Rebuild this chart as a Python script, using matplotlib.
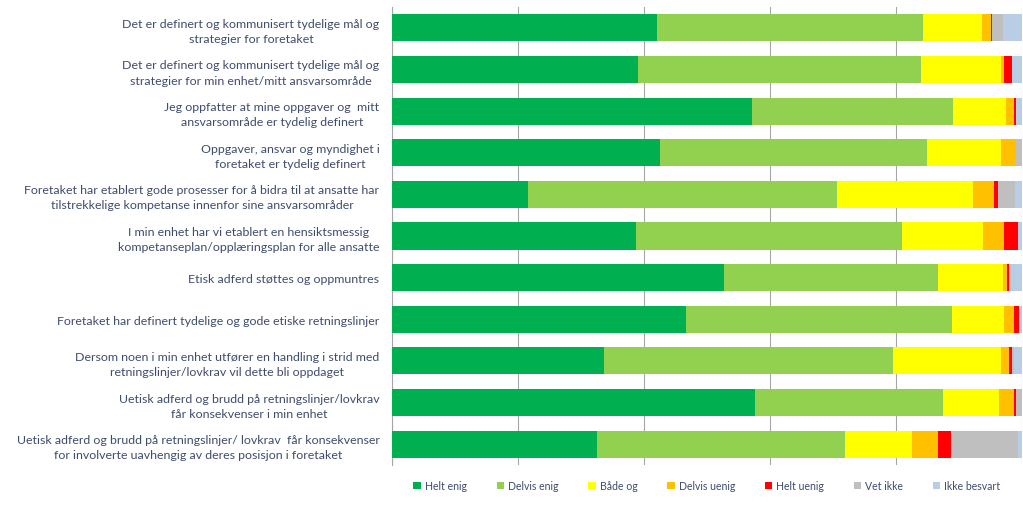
import matplotlib.pyplot as plt
import numpy as np

categories = [
    "Det er definert og kommunisert tydelige mål og\nstrategier for foretaket",
    "Det er definert og kommunisert tydelige mål og\nstrategier for min enhet/mitt ansvarsområde",
    "Jeg oppfatter at mine oppgaver og  mitt\nansvarsområde er tydelig definert",
    "Oppgaver, ansvar og myndighet i\nforetaket er tydelig definert",
    "Foretaket har etablert gode prosesser for å bidra til at ansatte har\ntilstrekkelige kompetanse innenfor sine ansvarsområder",
    "I min enhet har vi etablert en hensiktsmessig\nkompetanseplan/opplæringsplan for alle ansatte",
    "Etisk adferd støttes og oppmuntres",
    "Foretaket har definert tydelige og gode etiske retningslinjer",
    "Dersom noen i min enhet utfører en handling i strid med\nretningslinjer/lovkrav vil dette bli oppdaget",
    "Uetisk adferd og brudd på retningslinjer/lovkrav\nfår konsekvenser i min enhet",
    "Uetisk adferd og brudd på retningslinjer/ lovkrav  får konsekvenser\nfor involverte uavhengig av deres posisjon i foretaket",
]

series_names = ["Helt enig", "Delvis enig", "Både og", "Delvis uenig",
                "Helt uenig", "Vet ikke", "Ikke besvart"]

helt_enig = [42.1, 39.0, 57.1, 42.5, 21.6, 38.7, 52.7, 46.7, 33.7, 57.6, 32.5]
delvis_enig = [42.2, 44.9, 32.0, 42.4, 49.0, 42.2, 33.9, 42.2, 45.8, 29.8, 39.4]
baade_og = [9.4, 12.7, 8.3, 11.8, 21.6, 12.9, 10.4, 8.2, 17.2, 8.9, 10.7]
delvis_uenig = [1.3, 0.6, 1.4, 2.3, 3.3, 3.4, 0.6, 1.7, 1.3, 2.4, 4.0]
helt_uenig = [0.3, 1.2, 0.3, 0.0, 0.7, 2.1, 0.3, 0.7, 0.4, 0.3, 2.2]
vet_ikke = [1.7, 0.0, 0.0, 1.0, 2.7, 0.0, 0.3, 0.0, 0.3, 1.0, 10.6]
ikke_besvart = [3.0, 1.6, 0.9, 0.0, 1.1, 0.7, 1.8, 0.5, 1.3, 0.0, 0.6]

colors = ["#00B050", "#92D050", "#FFFF00", "#FFC000", "#FF0000", "#BFBFBF", "#B9CDE5"]
text_color = "#3E4C6D"

plt.rcParams["font.family"] = ["Lato", "DejaVu Sans"]

fig = plt.figure(figsize=(10.23, 5.10), dpi=100)
ax = fig.add_axes([392 / 1023, 1 - 466 / 510, 630 / 1023, (466 - 8) / 510])

data = [helt_enig, delvis_enig, baade_og, delvis_uenig, helt_uenig, vet_ikke, ikke_besvart]
y = np.arange(len(categories))
left = np.zeros(len(categories))
for name, vals, col in zip(series_names, data, colors):
    vals = np.array(vals)
    ax.barh(y, vals, left=left, height=0.65, color=col, label=name, zorder=3)
    left += vals

ax.set_xlim(0, 100)
ax.set_ylim(len(categories) - 0.5, -0.5)
ax.set_xticks([0, 20, 40, 60, 80, 100])
ax.set_xticklabels([])
ax.tick_params(axis="x", length=0)
ax.tick_params(axis="y", length=0, pad=9)
ax.set_yticks(y)
ax.set_yticklabels(categories, fontsize=8.9, color=text_color, ha="right",
                   multialignment="center", linespacing=1.45)
ax.grid(axis="x", color="#A6A6A6", linewidth=0.8, zorder=0)
for side in ["top", "right", "bottom"]:
    ax.spines[side].set_visible(False)
ax.spines["left"].set_color("#A6A6A6")
ax.spines["left"].set_linewidth(0.8)

ax.legend(loc="center", bbox_to_anchor=(0.50, -0.045), ncol=7, frameon=False,
          fontsize=7.6, handlelength=0.7, handleheight=0.7, handletextpad=0.4,
          columnspacing=2.8, labelcolor=text_color)

fig.savefig("out.png", dpi=100, facecolor="white")
